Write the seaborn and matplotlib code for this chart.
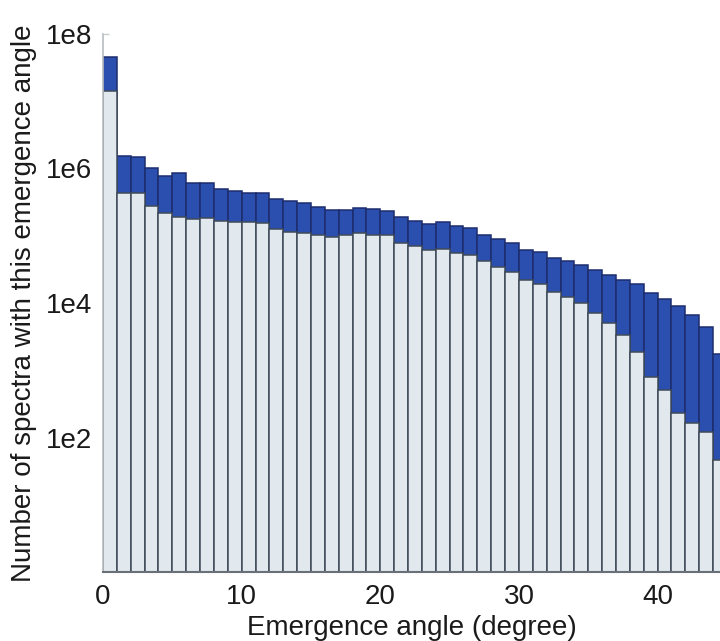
import numpy as np
import pandas as pd
import matplotlib
matplotlib.use("Agg")
import matplotlib.pyplot as plt
import seaborn as sns
from matplotlib.ticker import FixedLocator, FixedFormatter, NullFormatter

# Bin start angles (degree), 1-degree bins
angles = list(range(45))

# Dark blue series (larger counts)
dark_counts = [4.6e7, 1.53e6, 1.48e6, 1.03e6, 7.8e5, 8.5e5, 6.0e5, 6.0e5, 4.95e5, 4.63e5,
               4.28e5, 4.28e5, 3.56e5, 3.32e5, 3.07e5, 2.65e5, 2.39e5, 2.44e5, 2.56e5, 2.47e5,
               2.36e5, 1.88e5, 1.67e5, 1.50e5, 1.59e5, 1.40e5, 1.29e5, 1.03e5, 8.96e4, 7.73e4,
               6.14e4, 5.67e4, 4.72e4, 4.26e4, 3.67e4, 3.10e4, 2.61e4, 2.23e4, 1.92e4, 1.39e4,
               1.14e4, 9.1e3, 6.6e3, 4.4e3, 1.73e3]

# Light series (smaller counts)
light_counts = [1.42e7, 4.37e5, 4.37e5, 2.80e5, 2.16e5, 1.92e5, 1.77e5, 1.85e5, 1.66e5, 1.60e5,
                1.60e5, 1.56e5, 1.27e5, 1.15e5, 1.09e5, 1.02e5, 9.5e4, 1.02e5, 1.10e5, 1.02e5,
                1.02e5, 7.9e4, 7.05e4, 6.14e4, 6.35e4, 5.6e4, 5.17e4, 4.21e4, 3.47e4, 2.86e4,
                2.20e4, 1.92e4, 1.44e4, 1.22e4, 9.9e3, 7.0e3, 4.99e3, 3.29e3, 1.87e3, 8.0e2,
                5.1e2, 2.29e2, 1.64e2, 1.19e2, 46]

x_ticks = [0, 10, 20, 30, 40]
y_major = [1e2, 1e4, 1e6, 1e8]
y_major_labels = ["1e2", "1e4", "1e6", "1e8"]
y_minor = [1e1, 1e3, 1e5, 1e7]

df = pd.DataFrame({"angle": [a + 0.5 for a in angles], "dark": dark_counts, "light": light_counts})

sns.set_theme(style="white")
plt.rcParams["font.family"] = ["Liberation Sans", "DejaVu Sans"]

fig = plt.figure(figsize=(7.2, 6.41), dpi=100)
ax = fig.add_axes([103 / 720, 1 - 572 / 641, 1 - 103 / 720, (572 - 34) / 641])

sns.histplot(data=df, x="angle", weights="dark", binwidth=1, binrange=(0, 45), ax=ax,
             color="#2b4fae", alpha=1, edgecolor="#1d2d6e", linewidth=1.1)
sns.histplot(data=df, x="angle", weights="light", binwidth=1, binrange=(0, 45), ax=ax,
             color="#e2e9ee", alpha=1, edgecolor="#3f4a58", linewidth=1.1)

ax.set_yscale("log")
ax.set_ylim(1, 1e8)
ax.set_xlim(0, 44.5)

ax.yaxis.set_major_locator(FixedLocator(y_major))
ax.yaxis.set_major_formatter(FixedFormatter(y_major_labels))
ax.yaxis.set_minor_locator(FixedLocator(y_minor))
ax.yaxis.set_minor_formatter(NullFormatter())
ax.set_xticks(x_ticks)
ax.set_xticklabels([str(t) for t in x_ticks])

ax.tick_params(axis="y", which="both", left=True, direction="in", length=4,
               color="#c8ccd0", width=1, labelsize=20, pad=8, labelcolor="#1a1a1a")
ax.tick_params(axis="x", which="both", bottom=False, labelsize=20, pad=3, labelcolor="#1a1a1a")

for side in ["top", "right"]:
    ax.spines[side].set_visible(False)
ax.spines["left"].set_color("#b8bcc0")
ax.spines["left"].set_linewidth(1.2)
ax.spines["bottom"].set_color("#6a7078")
ax.spines["bottom"].set_linewidth(1.5)

ax.set_xlabel("Emergence angle (degree)", fontsize=20, color="#1a1a1a", labelpad=3)
ax.set_ylabel("Number of spectra with this emergence angle", fontsize=20, color="#1a1a1a", labelpad=6)
ax.grid(False)

fig.savefig("out.png", dpi=100)
